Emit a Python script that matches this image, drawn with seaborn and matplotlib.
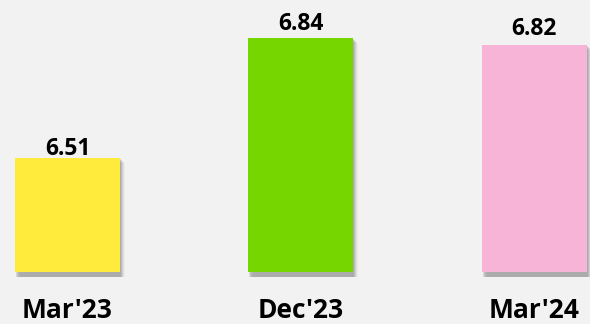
import matplotlib
matplotlib.use("Agg")
import matplotlib.pyplot as plt
from matplotlib.patches import Rectangle
from matplotlib.transforms import ScaledTranslation, Bbox, TransformedBbox
import seaborn as sns

# Data
periods = ["Mar'23", "Dec'23", "Mar'24"]
values = [6.51, 6.84, 6.82]
bar_colors = ["#FFEB3B", "#76D600", "#F8B4D6"]
label_gap_px = [3, 8, 10]  # space between bar top and its value label

sns.set_theme(style="white")
plt.rcParams["font.family"] = ["Open Sans", "DejaVu Sans"]

bg = "#F2F2F2"
fig = plt.figure(figsize=(5.9, 3.24), dpi=100, facecolor=bg)
ax = fig.add_axes([0, 52 / 324, 1, 272 / 324])
ax.set_facecolor(bg)

sns.barplot(x=periods, y=values, hue=periods, palette=bar_colors,
            legend=False, width=0.45, saturation=1, ax=ax, zorder=3,
            edgecolor="none", linewidth=0)

ax.set_xlim(-0.2894, 2.240)
ax.set_ylim(6.194, 6.945)

# Soft drop shadow behind each bar, allowed to spill just below the baseline
shadow_clip = TransformedBbox(Bbox([[0, -0.02], [1, 1]]), ax.transAxes)
for patch in list(ax.patches):
    for step, alpha in zip(range(1, 6), [0.2, 0.18, 0.14, 0.09, 0.05]):
        off = ScaledTranslation(step / fig.dpi, -step / fig.dpi, fig.dpi_scale_trans)
        sh = Rectangle((patch.get_x(), patch.get_y()), patch.get_width(), patch.get_height(),
                       transform=ax.transData + off, facecolor="#6e6e6e",
                       edgecolor="none", alpha=alpha, zorder=2)
        ax.add_patch(sh)
        sh.set_clip_box(shadow_clip)

for i, (v, gap) in enumerate(zip(values, label_gap_px)):
    ax.annotate(f"{v:.2f}", xy=(i, v), xytext=(0, gap * 0.72), textcoords="offset points",
                ha="center", va="baseline", fontsize=16.5, fontweight="bold", color="black")

for s in ax.spines.values():
    s.set_visible(False)
ax.set_yticks([])
ax.set_xlabel("")
ax.set_ylabel("")
ax.tick_params(axis="x", length=0, pad=18, labelsize=19, labelcolor="black")
for t in ax.get_xticklabels():
    t.set_fontweight("bold")

fig.savefig("out.png", dpi=100, facecolor=bg)
